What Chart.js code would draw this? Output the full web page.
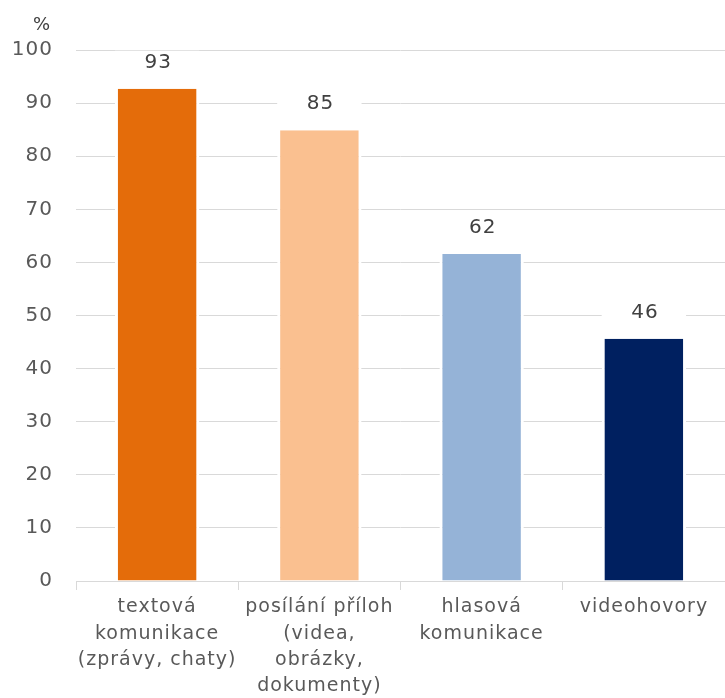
<!DOCTYPE html>
<html>
<head>
<meta charset="utf-8">
<script src="https://cdn.jsdelivr.net/npm/chart.js"></script>
<style>
    html, body { margin: 0; padding: 0; background: #ffffff; }
    #wrap { width: 725px; height: 698px; }
</style>
</head>
<body>
<div id="wrap"><canvas id="share-chart"></canvas></div>
<script>
// Data
const categories = [
    ['textová', 'komunikace', '(zprávy, chaty)'],
    ['posílání příloh', '(videa,', 'obrázky,', 'dokumenty)'],
    ['hlasová', 'komunikace'],
    ['videohovory']
];
const shareValues = [92.7, 84.9, 61.6, 45.6];
const yTickRange = [0, 100];
const yTickStep = 10;
const unitLabel = '%';

const barColors = ['#e46c0a', '#fac090', '#95b3d7', '#002060'];
const fontFamily = "'DejaVu Sans', sans-serif";
const spacing = '1px';

// Canvas state is reset on resize, so put letter spacing back before layout and draw
const spacingPlugin = {
    id: 'spacing',
    beforeLayout(chart) { chart.ctx.letterSpacing = spacing; },
    beforeDraw(chart) { chart.ctx.letterSpacing = spacing; }
};

// Value labels above bars (white box breaks the gridlines) and the "%" unit
const valueLabels = {
    id: 'valueLabels',
    afterDatasetsDraw(chart) {
        const ctx = chart.ctx;
        const meta = chart.getDatasetMeta(0);
        ctx.save();
        ctx.letterSpacing = spacing;
        ctx.font = '20px ' + fontFamily;
        ctx.textAlign = 'center';
        ctx.textBaseline = 'middle';
        meta.data.forEach((bar, i) => {
            const y = bar.y - 26;
            ctx.fillStyle = '#ffffff';
            ctx.fillRect(bar.x - bar.width / 2, y - 12, bar.width, 24);
            ctx.fillStyle = '#404040';
            ctx.fillText(String(Math.round(shareValues[i])), bar.x + 1, y);
        });
        const yScale = chart.scales.y;
        ctx.font = '18px ' + fontFamily;
        ctx.textAlign = 'right';
        ctx.fillStyle = '#404040';
        ctx.fillText(unitLabel, yScale.right - 25, chart.chartArea.top - 25);
        ctx.restore();
    }
};

const ctx = document.getElementById('share-chart').getContext('2d');
new Chart(ctx, {
    type: 'bar',
    data: {
        labels: categories,
        datasets: [{
            data: shareValues,
            backgroundColor: barColors,
            borderColor: '#ffffff',
            borderWidth: { left: 3, right: 3, top: 0, bottom: 0 },
            categoryPercentage: 1,
            barPercentage: 0.52
        }]
    },
    options: {
        responsive: true,
        maintainAspectRatio: false,
        animation: false,
        layout: { padding: { top: 50, left: 0, right: 0, bottom: 0 } },
        plugins: {
            legend: { display: false },
            tooltip: { enabled: false }
        },
        scales: {
            x: {
                grid: {
                    display: true,
                    drawOnChartArea: false,
                    drawTicks: true,
                    tickLength: 9,
                    color: '#d9d9d9'
                },
                border: { display: true, color: '#d9d9d9' },
                ticks: {
                    color: '#595959',
                    padding: 4,
                    autoSkip: false,
                    maxRotation: 0,
                    font: { family: fontFamily, size: 19, lineHeight: 1.39 }
                },
                afterFit(scale) { scale.height = 117; }
            },
            y: {
                min: yTickRange[0],
                max: yTickRange[1],
                grid: { color: '#d9d9d9', drawTicks: false },
                border: { display: false },
                ticks: {
                    stepSize: yTickStep,
                    color: '#595959',
                    padding: 23,
                    font: { family: fontFamily, size: 20 }
                },
                afterFit(scale) { scale.width = 76; }
            }
        }
    },
    plugins: [spacingPlugin, valueLabels]
});
</script>
</body>
</html>
